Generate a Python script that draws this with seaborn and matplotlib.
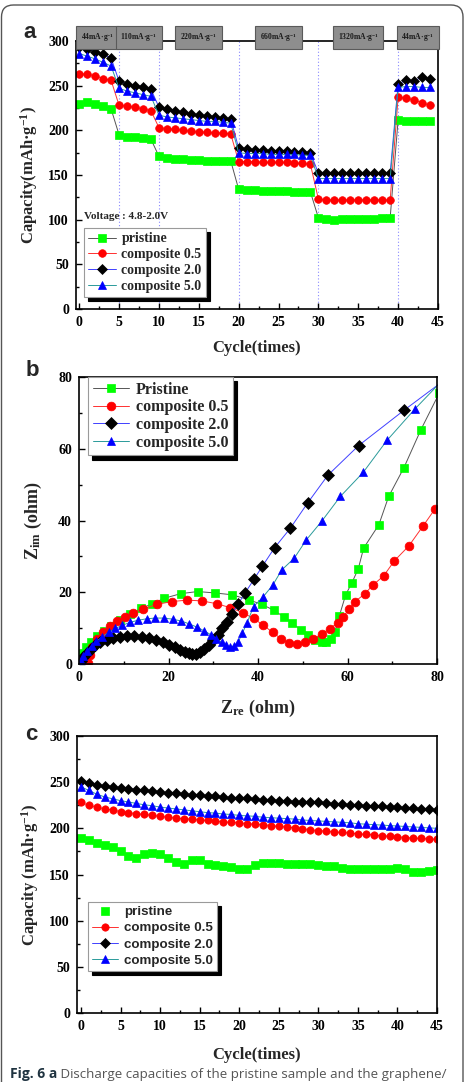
import numpy as np
import pandas as pd
import matplotlib as mpl
mpl.use("Agg")
import matplotlib.pyplot as plt
from matplotlib.patches import FancyBboxPatch
from matplotlib.ticker import MultipleLocator
import seaborn as sns

# ============================================================
# Data
# ============================================================
SERIES = ["pristine", "composite 0.5", "composite 2.0", "composite 5.0"]
MARKERS = ["s", "o", "D", "^"]
FACE = ["#00ff00", "#ff0000", "#000000", "#0000ff"]
LINE = ["#555555", "#ff3030", "#4040ff", "#2a9a9a"]

# (a) rate capability
a_cycle = list(range(45))
a_pristine = [229, 232, 229, 227, 224,
              195, 193, 192, 191, 190,
              171, 169, 168, 168, 167, 167, 166, 166, 166, 166,
              134, 133, 133, 132, 132, 132, 132, 131, 131, 131,
              102, 101, 100, 101, 101, 101, 101, 101, 102, 102,
              212, 211, 210, 210, 210]
a_c05 = [263, 263, 261, 258, 256,
         228, 227, 226, 224, 222,
         203, 202, 201, 200, 199, 198, 198, 197, 197, 196,
         165, 165, 165, 164, 164, 164, 164, 163, 163, 162,
         123, 122, 122, 122, 122, 122, 122, 122, 122, 122,
         237, 236, 234, 231, 228]
a_c20 = [293, 291, 288, 285, 281,
         255, 252, 250, 249, 246,
         226, 224, 222, 220, 218, 217, 216, 215, 214, 213,
         180, 179, 178, 178, 177, 177, 177, 176, 176, 175,
         152, 152, 152, 152, 152, 152, 152, 152, 152, 152,
         252, 256, 255, 260, 257]
a_c50 = [286, 283, 280, 276, 272,
         247, 244, 242, 240, 238,
         217, 215, 214, 213, 212, 211, 210, 210, 209, 208,
         175, 174, 174, 174, 173, 173, 173, 173, 172, 172,
         146, 146, 146, 146, 146, 146, 146, 146, 146, 146,
         248, 249, 249, 248, 248]
RATE_LABELS = ["44mA·g$^{-1}$", "110mA·g$^{-1}$", "220mA·g$^{-1}$",
               "660mA·g$^{-1}$", "1320mA·g$^{-1}$", "44mA·g$^{-1}$"]
RATE_BOUNDS = [5, 10, 20, 30, 40]

# (b) Nyquist plots
b_pristine_x = [0.3, 0.8, 1.6, 2.7, 4.0, 5.5, 7.2, 9.2, 11.5, 13.9,
                16.4, 19.0, 22.7, 26.5, 30.4, 34.2, 37.9, 40.9, 43.5, 45.7,
                47.6, 49.5, 51.2, 52.8, 54.2, 55.3, 56.3, 57.2, 58.2, 59.6,
                61.0, 62.4, 63.6, 67.0, 69.2, 72.6, 76.4, 80.5]
b_pristine_y = [1.5, 3.0, 4.6, 6.2, 7.7, 9.2, 10.6, 12.2, 13.9, 15.5,
                16.8, 18.3, 19.6, 20.2, 19.8, 19.3, 17.9, 16.6, 15.0, 13.2,
                11.4, 9.6, 8.0, 6.8, 6.0, 6.0, 7.0, 9.0, 13.5, 19.3,
                22.7, 26.5, 32.3, 38.8, 46.7, 54.7, 65.3, 75.5]
b_c05_x = [2.1, 2.4, 3.0, 4.0, 5.3, 6.9, 8.5, 10.2, 12.0, 14.4,
           17.4, 20.7, 24.1, 27.4, 30.8, 33.8, 36.6, 39.0, 41.2, 43.3,
           45.2, 47.0, 48.8, 50.6, 52.4, 54.2, 56.0, 57.8, 59.0, 60.4,
           61.7, 63.8, 65.7, 68.1, 70.5, 73.7, 76.9, 79.6]
b_c05_y = [0.2, 2.5, 4.8, 7.0, 8.9, 10.5, 12.0, 13.2, 14.2, 15.4,
           16.6, 17.4, 17.8, 17.6, 16.8, 15.7, 14.3, 12.7, 10.8, 8.8,
           7.0, 5.9, 5.6, 6.0, 7.0, 8.4, 9.8, 11.5, 13.2, 15.2,
           17.4, 19.5, 22.0, 24.6, 28.8, 32.9, 38.5, 43.3]
b_c20_x = [0.5, 1.0, 1.7, 2.6, 3.6, 4.8, 6.2, 7.7, 9.2, 10.8,
           12.4, 14.0, 15.6, 17.2, 18.7, 20.1, 21.4, 22.6, 23.6, 24.5,
           25.3, 26.1, 27.0, 28.0, 29.0, 30.0, 31.0, 32.0, 33.0, 34.2,
           35.6, 37.1, 39.1, 41.0, 43.7, 47.2, 51.1, 55.6, 62.5, 72.6, 81.5]
b_c20_y = [0.8, 2.0, 3.2, 4.3, 5.3, 6.1, 6.8, 7.3, 7.6, 7.8,
           7.8, 7.6, 7.2, 6.7, 6.1, 5.4, 4.7, 4.0, 3.4, 3.0,
           2.8, 2.9, 3.3, 4.1, 5.2, 6.6, 8.2, 9.9, 11.8, 14.0,
           16.8, 19.8, 23.6, 27.3, 32.4, 37.8, 44.9, 52.6, 60.9, 70.7, 79.0]
b_c50_x = [0.5, 1.0, 1.8, 2.8, 3.9, 5.2, 6.6, 8.1, 9.7, 11.4,
           13.2, 15.1, 17.0, 19.0, 20.9, 22.8, 24.6, 26.3, 27.9, 29.4,
           30.7, 31.9, 32.9, 33.8, 34.7, 35.6, 36.5, 37.5, 39.0, 41.2,
           43.3, 45.3, 48.1, 50.8, 54.3, 58.4, 63.5, 68.8, 75.0, 81.0]
b_c50_y = [0.8, 2.2, 3.6, 5.0, 6.3, 7.6, 8.8, 9.9, 10.8, 11.6,
           12.2, 12.6, 12.8, 12.8, 12.5, 12.0, 11.2, 10.3, 9.3, 8.2,
           7.1, 6.0, 5.2, 4.8, 5.0, 6.2, 8.6, 11.3, 16.0, 18.8,
           22.0, 26.2, 29.5, 34.6, 39.9, 46.7, 53.4, 62.3, 71.0, 78.8]

# (c) cycling
c_cycle = list(range(46))
c_pristine = [190, 187, 184, 182, 180, 175, 170, 168, 172, 173,
              172, 168, 164, 161, 166, 166, 161, 160, 159, 158,
              156, 156, 160, 162, 162, 162, 161, 161, 161, 161,
              160, 159, 159, 157, 156, 156, 156, 156, 156, 156,
              157, 156, 153, 153, 154, 155]
c_c05 = [228, 225, 223, 221, 220, 218, 217, 216, 215, 214,
         213, 212, 211, 210.5, 210, 209, 208.5, 208, 207, 206.5,
         206, 205, 204.5, 204, 203, 202, 201.5, 200.5, 199.5, 198.5,
         197.5, 197, 196, 195.5, 195, 194, 193.5, 193, 192, 191.5,
         191, 190, 189.5, 189, 188.5, 188]
c_c20 = [251, 249, 247, 246, 245, 244, 243, 242, 241, 240,
         239, 238.5, 238, 237, 236.5, 236, 235, 234.5, 234, 233,
         233, 232.5, 232, 231, 230.5, 230, 229.5, 229, 228.5, 228,
         228, 227, 226.5, 226, 225.5, 225, 224.5, 224, 224, 223.5,
         223, 222.5, 222, 221, 220.5, 219.5]
c_c50 = [245, 241, 237, 234, 232, 230, 228.5, 227, 225.5, 224.5,
         223, 222, 221, 220, 219, 218, 217, 216.5, 215.5, 215,
         214, 213.5, 213, 212, 211.5, 211, 210.5, 210, 209, 208.5,
         208, 207.5, 207, 206.5, 206, 205, 204.5, 204, 203.5, 203,
         202.5, 202, 201.5, 201, 200.5, 200]

# ============================================================
# Style
# ============================================================
sns.set_theme(style="ticks")
plt.rcParams.update({
    "font.family": ["Liberation Serif", "DejaVu Serif"],
    "font.weight": "bold",
    "axes.labelweight": "bold",
    "axes.edgecolor": "black",
    "axes.linewidth": 1.2,
    "xtick.color": "black",
    "ytick.color": "black",
    "mathtext.fontset": "custom",
    "mathtext.rm": "Liberation Serif:bold",
    "mathtext.it": "Liberation Serif:italic:bold",
    "mathtext.bf": "Liberation Serif:bold",
})

TICK_SIZE = 10
LABEL_SIZE = 12


def style_axes(ax, xmaj, xmin, ymaj, ymin):
    ax.xaxis.set_major_locator(MultipleLocator(xmaj))
    ax.xaxis.set_minor_locator(MultipleLocator(xmin))
    ax.yaxis.set_major_locator(MultipleLocator(ymaj))
    ax.yaxis.set_minor_locator(MultipleLocator(ymin))
    ax.tick_params(which="both", direction="in", top=False, right=False,
                   width=1.0, labelsize=TICK_SIZE, pad=5)
    ax.tick_params(which="major", length=4)
    ax.tick_params(which="minor", length=2.5)
    for s in ax.spines.values():
        s.set_visible(True)
        s.set_linewidth(1.2)
        s.set_color("black")


def draw_series(ax, x, y, i, ms, line=True):
    if line:
        sns.lineplot(x=x, y=y, ax=ax, sort=False, estimator=None, errorbar=None,
                     color=LINE[i], linewidth=0.7, marker=MARKERS[i],
                     markersize=ms * (0.9 if MARKERS[i] == "D" else 1.0),
                     markerfacecolor=FACE[i], markeredgecolor=FACE[i],
                     markeredgewidth=0.5, label=SERIES[i])
    else:
        sns.scatterplot(x=x, y=y, ax=ax, marker=MARKERS[i], s=ms ** 2,
                        color=FACE[i], edgecolor=FACE[i], linewidth=0.5,
                        label=SERIES[i])


def add_legend(ax, labels, prop, **kw):
    handles, _ = ax.get_legend_handles_labels()
    leg = ax.legend(handles, labels, prop=prop, frameon=True, fancybox=False,
                    shadow={"color": "black", "alpha": 1, "ox": 3, "oy": -3},
                    edgecolor="#9a9a9a", borderaxespad=0, handletextpad=0.4,
                    borderpad=0.3, **kw)
    leg.get_frame().set_linewidth(0.8)
    leg.get_frame().set_alpha(1)
    return leg


fig = plt.figure(figsize=(4.67, 10.82), dpi=100)
W, H = 467, 1082


def px_axes(left, right, top, bottom):
    return fig.add_axes([left / W, 1 - bottom / H, (right - left) / W, (bottom - top) / H])


# ---------------- (a) ----------------
ax_a = px_axes(76, 438, 41, 309)
for i, y in enumerate([a_pristine, a_c05, a_c20, a_c50]):
    draw_series(ax_a, a_cycle, y, i, ms=5.5)
ax_a.set_xlim(-0.4, 45)
ax_a.set_ylim(0, 300)
style_axes(ax_a, 5, 2.5, 50, 25)
for b in RATE_BOUNDS:
    ax_a.axvline(b, color="#8a8aff", lw=0.8, ls=(0, (1, 2)), zorder=0)
edges = [ax_a.get_xlim()[0]] + RATE_BOUNDS + [ax_a.get_xlim()[1]]
for k, lab in enumerate(RATE_LABELS):
    ax_a.text((edges[k] + edges[k + 1]) / 2, 1.013, lab,
              transform=ax_a.get_xaxis_transform(), ha="center", va="center",
              fontsize=5.5, color="#1a1a1a", clip_on=False, zorder=10,
              bbox=dict(boxstyle="square,pad=0.62", fc="#8e8e8e", ec="#5a5a5a", lw=0.8))
ax_a.text(0.022, 0.347, "Voltage : 4.8-2.0V", transform=ax_a.transAxes,
          ha="left", va="center", fontsize=8)
ax_a.set_xlabel("Cycle(times)", fontsize=LABEL_SIZE, labelpad=8)
ax_a.set_ylabel("Capacity(mAh·g$^{-1}$)", fontsize=LABEL_SIZE, labelpad=6)
add_legend(ax_a, SERIES, {"family": "Liberation Serif", "weight": "bold", "size": 10},
           loc="lower left", bbox_to_anchor=(0.022, 0.045), handlelength=2.0,
           labelspacing=0.2)

# ---------------- (b) ----------------
ax_b = px_axes(79, 437, 377, 664)
for i, (x, y) in enumerate([(b_pristine_x, b_pristine_y), (b_c05_x, b_c05_y),
                            (b_c20_x, b_c20_y), (b_c50_x, b_c50_y)]):
    draw_series(ax_b, x, y, i, ms=6.3)
ax_b.set_xlim(0, 80)
ax_b.set_ylim(0, 80)
style_axes(ax_b, 20, 10, 20, 10)
ax_b.set_xlabel("Z$_{\\mathrm{re}}$ (ohm)", fontsize=LABEL_SIZE + 1, labelpad=10)
ax_b.set_ylabel("Z$_{\\mathrm{im}}$ (ohm)", fontsize=LABEL_SIZE + 1, labelpad=10)
add_legend(ax_b, ["Pristine"] + SERIES[1:],
           {"family": "Liberation Serif", "weight": "bold", "size": 11.5},
           loc="upper left", bbox_to_anchor=(0.025, 1.0), handlelength=2.3,
           labelspacing=0.1)

# ---------------- (c) ----------------
ax_c = px_axes(77, 437, 736, 1013)
for i, y in enumerate([c_pristine, c_c05, c_c20, c_c50]):
    draw_series(ax_c, c_cycle, y, i, ms=5.3, line=(i != 0))
ax_c.set_xlim(-0.5, 45)
ax_c.set_ylim(0, 300)
style_axes(ax_c, 5, 2.5, 50, 25)
ax_c.set_xlabel("Cycle(times)", fontsize=LABEL_SIZE, labelpad=10)
ax_c.set_ylabel("Capacity (mAh·g$^{-1}$)", fontsize=LABEL_SIZE, labelpad=6)
add_legend(ax_c, SERIES, {"family": "Liberation Sans", "weight": "bold", "size": 9.6},
           loc="lower left", bbox_to_anchor=(0.03, 0.152), handlelength=2.0,
           labelspacing=0.3)

# panel letters
for lab, (x, y) in zip("abc", [(30, 33), (32, 371), (31, 734)]):
    fig.text(x / W, 1 - y / H, lab, family="Liberation Sans", weight="bold",
             fontsize=16, ha="center", va="center")

# rounded frame around the figure
fig.patches.append(FancyBboxPatch((0.015, -0.5), 4.615, 11.27,
                                  boxstyle="round,pad=0,rounding_size=0.12",
                                  transform=fig.dpi_scale_trans, fc="none",
                                  ec="#555555", lw=1.0))

# caption line at the bottom edge
cap1 = fig.text(10 / W, 0.0008, "Fig. 6 a", family="Open Sans", weight="bold",
                fontsize=10, color="#1f3340", ha="left", va="bottom")
ax_c.annotate(" Discharge capacities of the pristine sample and the graphene/",
              xy=(1, 0), xycoords=cap1, ha="left", va="bottom",
              family="Open Sans", weight="normal", fontsize=9.6, color="#555555",
              annotation_clip=False)

fig.savefig("out.png", dpi=100)
